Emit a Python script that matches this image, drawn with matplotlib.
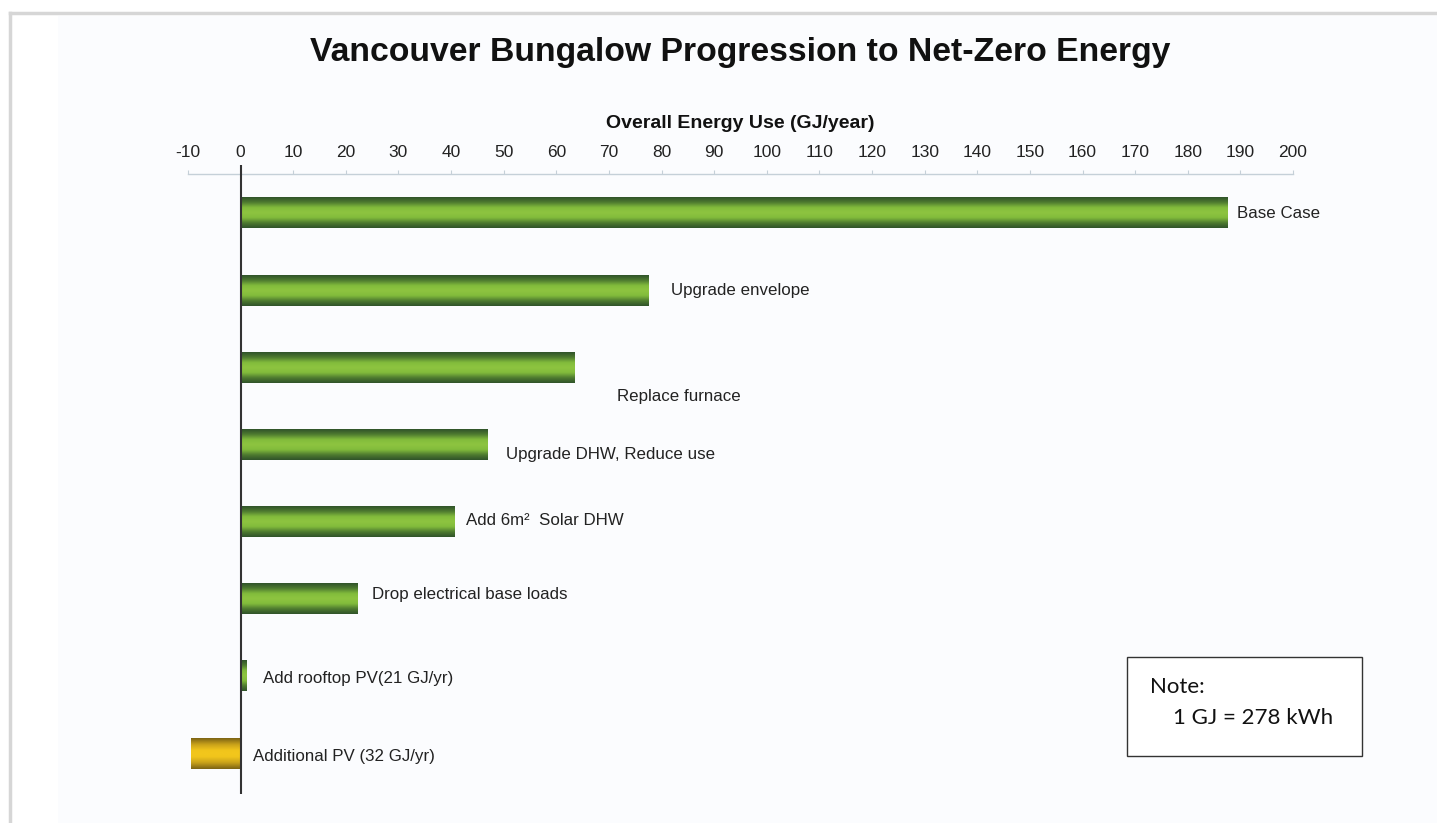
import numpy as np
import matplotlib.pyplot as plt
from matplotlib.colors import LinearSegmentedColormap
from matplotlib.lines import Line2D
from matplotlib.patches import Rectangle

plt.rcParams['font.family'] = ['Liberation Sans', 'DejaVu Sans']
plt.rcParams['axes.unicode_minus'] = False

# data
steps = ["Base Case", "Upgrade envelope", "Replace furnace",
         "Upgrade DHW, Reduce use", "Add 6m\u00b2  Solar DHW",
         "Drop electrical base loads", "Add rooftop PV(21 GJ/yr)",
         "Additional PV (32 GJ/yr)"]
energy = [187.5, 77.4, 63.3, 46.8, 40.5, 22.2, 1.0, -9.5]
ticks = list(range(-10, 201, 10))

# label offsets from bar end, in pixels (right, down)
label_dx = [10, 23, 43, 19, 12, 15, 17, 12]
label_dy = [0, 0, 29, 10, -1, -4, 3, 3]

W, H = 1437, 823
fig = plt.figure(figsize=(W / 100, H / 100), dpi=100)
fig.patch.set_facecolor('white')

# pale background + grey frame like the original slide
fig.patches.append(Rectangle((58 / W, 0), 1, 1 - 16 / H, transform=fig.transFigure,
                             facecolor='#fbfcfe', edgecolor='none', zorder=-5))
fig.lines.append(Line2D([10 / W, 1], [1 - 13 / H, 1 - 13 / H], transform=fig.transFigure,
                        color='#d6d6d6', lw=2.5, zorder=-4))
fig.lines.append(Line2D([10 / W, 10 / W], [0, 1 - 13 / H], transform=fig.transFigure,
                        color='#d6d6d6', lw=2.5, zorder=-4))

ax = fig.add_axes([188 / W, 1 - 794 / H, (1293 - 188) / W, (794 - 174) / H])
ax.set_facecolor('none')
ax.set_zorder(2)

y = np.arange(len(steps))
colors = ['green'] * 7 + ['gold']
bars = ax.barh(y, energy, height=0.40, color='none', edgecolor='none', zorder=2)

green_cmap = LinearSegmentedColormap.from_list(
    'g', ['#30532a', '#4f7c30', '#82bb3c', '#8ec540', '#82bb3c', '#4f7c30', '#30532a'])
gold_cmap = LinearSegmentedColormap.from_list(
    'y', ['#7d6414', '#c9a21a', '#f2c61c', '#f2c61c', '#c9a21a', '#7d6414'])
grad = np.linspace(0, 1, 64).reshape(-1, 1)

for bar, c in zip(bars, colors):
    x0, y0 = bar.get_x(), bar.get_y()
    x1, y1 = x0 + bar.get_width(), y0 + bar.get_height()
    cmap = green_cmap if c == 'green' else gold_cmap
    ax.imshow(grad, extent=[min(x0, x1), max(x0, x1), y1, y0], aspect='auto',
              cmap=cmap, zorder=2, interpolation='bicubic')

for i, (name, val) in enumerate(zip(steps, energy)):
    ax.annotate(name, xy=(max(val, 0), i),
                xytext=(label_dx[i] * 0.72, -label_dy[i] * 0.72),
                textcoords='offset points', ha='left', va='center',
                fontsize=12.2, color='#222222')

ax.set_xlim(-10, 200)
ax.set_ylim(len(steps) - 0.47, -0.506)

# zero line
ax.vlines(0, len(steps) - 0.47, -0.62, color='#333333', lw=1.5, zorder=3, clip_on=False)

ax.xaxis.set_ticks_position('top')
ax.xaxis.set_label_position('top')
ax.set_xticks(ticks)
ax.tick_params(axis='x', length=3, width=0.8, color='#c5d0d8', pad=7,
               labelsize=12.5, labelcolor='#222222')
ax.set_yticks([])
for s in ['left', 'right', 'bottom']:
    ax.spines[s].set_visible(False)
ax.spines['top'].set_color('#c5d0d8')
ax.spines['top'].set_linewidth(1)
ax.set_xlabel("Overall Energy Use (GJ/year)", fontsize=14, fontweight='bold',
              color='#111111', labelpad=12)

fig.text(740 / W, 1 - 52 / H, "Vancouver Bungalow Progression to Net-Zero Energy",
         ha='center', va='center', fontsize=24.3, fontweight='bold', color='#111111')

# note box
fig.patches.append(Rectangle((1127 / W, 1 - 756 / H), (1362 - 1127) / W, (756 - 657) / H,
                             transform=fig.transFigure, facecolor='white',
                             edgecolor='#333333', lw=1, zorder=3))
fig.text(1150 / W, 1 - 687 / H, "Note:", ha='left', va='center', fontsize=16,
         family=['Lato', 'DejaVu Sans'], color='#111111', zorder=4)
fig.text(1173 / W, 1 - 718 / H, "1 GJ = 278 kWh", ha='left', va='center', fontsize=16,
         family=['Lato', 'DejaVu Sans'], color='#111111', zorder=4)

fig.savefig('out.png', dpi=100)
